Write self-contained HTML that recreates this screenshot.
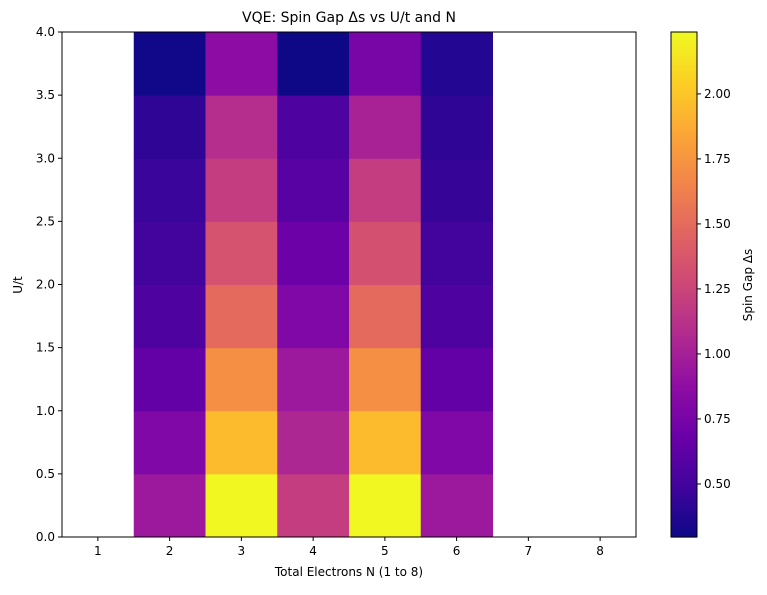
<!DOCTYPE html>
<html><head><meta charset="utf-8"><style>
body{margin:0;background:#fff;font-family:"Liberation Sans","DejaVu Sans",sans-serif;}
svg text{font-family:"DejaVu Sans","Liberation Sans",sans-serif;}
</style></head><body>
<svg id="chart" width="767" height="590" xmlns="http://www.w3.org/2000/svg"></svg>
<script>
const nValues=[1,2,3,4,5,6,7,8];
const uEdges=[0,0.5,1,1.5,2,2.5,3,3.5,4];
const yTicks=[0,0.5,1,1.5,2,2.5,3,3.5,4];
const cbTicks=[0.5,0.75,1,1.25,1.5,1.75,2];
// gap values per N, rows from U/t 0-0.5 upward; null = no data
const gapN1=[null,null,null,null,null,null,null,null];
const gapN2=[0.95,0.8,0.65,0.55,0.5,0.46,0.42,0.31];
const gapN3=[2.23,1.95,1.72,1.5,1.35,1.2,1.1,0.87];
const gapN4=[1.2,1.05,0.95,0.8,0.7,0.6,0.55,0.3];
const gapN5=[2.23,1.95,1.72,1.5,1.33,1.2,1.02,0.76];
const gapN6=[0.95,0.8,0.65,0.55,0.5,0.45,0.42,0.38];
const gapN7=[null,null,null,null,null,null,null,null];
const gapN8=[null,null,null,null,null,null,null,null];
const gaps=[gapN1,gapN2,gapN3,gapN4,gapN5,gapN6,gapN7,gapN8];
const vmin=0.296,vmax=2.238;

const NS="http://www.w3.org/2000/svg";
const svg=document.getElementById('chart');
function mk(t,a,txt){const e=document.createElementNS(NS,t);for(const k in a)e.setAttribute(k,a[k]);if(txt!=null)e.textContent=txt;svg.appendChild(e);return e;}
const px0=62,px1=636,py0=32,py1=537;
const xScale=v=>px0+(v-0.5)/8*(px1-px0);
const yScale=v=>py1-(v-0)/4*(py1-py0);
const stops=["#0d0887","#41049d","#6a00a8","#8f0da4","#b12a90","#cc4778","#e16462","#f2844b","#fca636","#fcce25","#f0f921"];
function hex(h){return [1,3,5].map(i=>parseInt(h.substr(i,2),16));}
function plasma(t){t=Math.max(0,Math.min(1,t));const f=t*10,i=Math.min(9,Math.floor(f)),r=f-i;const a=hex(stops[i]),b=hex(stops[i+1]);return `rgb(${a.map((c,k)=>Math.round(c+(b[k]-c)*r)).join(',')})`;}

let c;
c=mk('rect',{x:px0,y:py0,width:px1-px0,height:py1-py0,fill:'#fff'});

gaps.forEach((col,i)=>{col.forEach((v,j)=>{if(v==null)return;
 const x0=xScale(nValues[i]-0.5),x1=xScale(nValues[i]+0.5),y0=yScale(uEdges[j+1]),y1=yScale(uEdges[j]);
 const r=mk('rect',{x:x0,y:y0,width:x1-x0+0.5,height:y1-y0+0.5,fill:plasma((v-vmin)/(vmax-vmin))});
 
 
});});
c=mk('rect',{x:px0,y:py0,width:px1-px0,height:py1-py0,fill:'none',stroke:'#000','stroke-width':1});

nValues.forEach(n=>{const x=xScale(n);mk('line',{x1:x,x2:x,y1:py1,y2:py1+4,stroke:'#000'});
 const t=mk('text',{x:x,y:py1+18,'text-anchor':'middle','font-size':12},n);
 });
yTicks.forEach(v=>{const y=yScale(v);mk('line',{x1:px0-4,x2:px0,y1:y,y2:y,stroke:'#000'});
 const t=mk('text',{x:px0-7,y:y+4,'text-anchor':'end','font-size':12},v.toFixed(1));
 });
c=mk('text',{x:349,y:22,'text-anchor':'middle','font-size':14},'VQE: Spin Gap Δs vs U/t and N');

c=mk('text',{x:349,y:576,'text-anchor':'middle','font-size':12},'Total Electrons N (1 to 8)');

c=mk('text',{x:22,y:285,'text-anchor':'middle','font-size':12,transform:'rotate(-90 22 285)'},'U/t');

// colorbar
const cx0=671,cx1=697;
const cb=(v)=>py1-(v-vmin)/(vmax-vmin)*(py1-py0);
for(let k=0;k<200;k++){const y=py1-(k+1)*(py1-py0)/200;
 const r=mk('rect',{x:cx0,y:y,width:cx1-cx0,height:(py1-py0)/200+0.6,fill:plasma((k+0.5)/200)});
 }
c=mk('rect',{x:cx0,y:py0,width:cx1-cx0,height:py1-py0,fill:'none',stroke:'#000','stroke-width':1});

cbTicks.forEach(v=>{const y=cb(v);mk('line',{x1:cx1,x2:cx1+4,y1:y,y2:y,stroke:'#000'});
 const t=mk('text',{x:cx1+7,y:y+4,'font-size':12},v.toFixed(2));
 });
c=mk('text',{x:752,y:285,'text-anchor':'middle','font-size':12,transform:'rotate(-90 752 285)'},'Spin Gap Δs');

</script>
</body></html>
